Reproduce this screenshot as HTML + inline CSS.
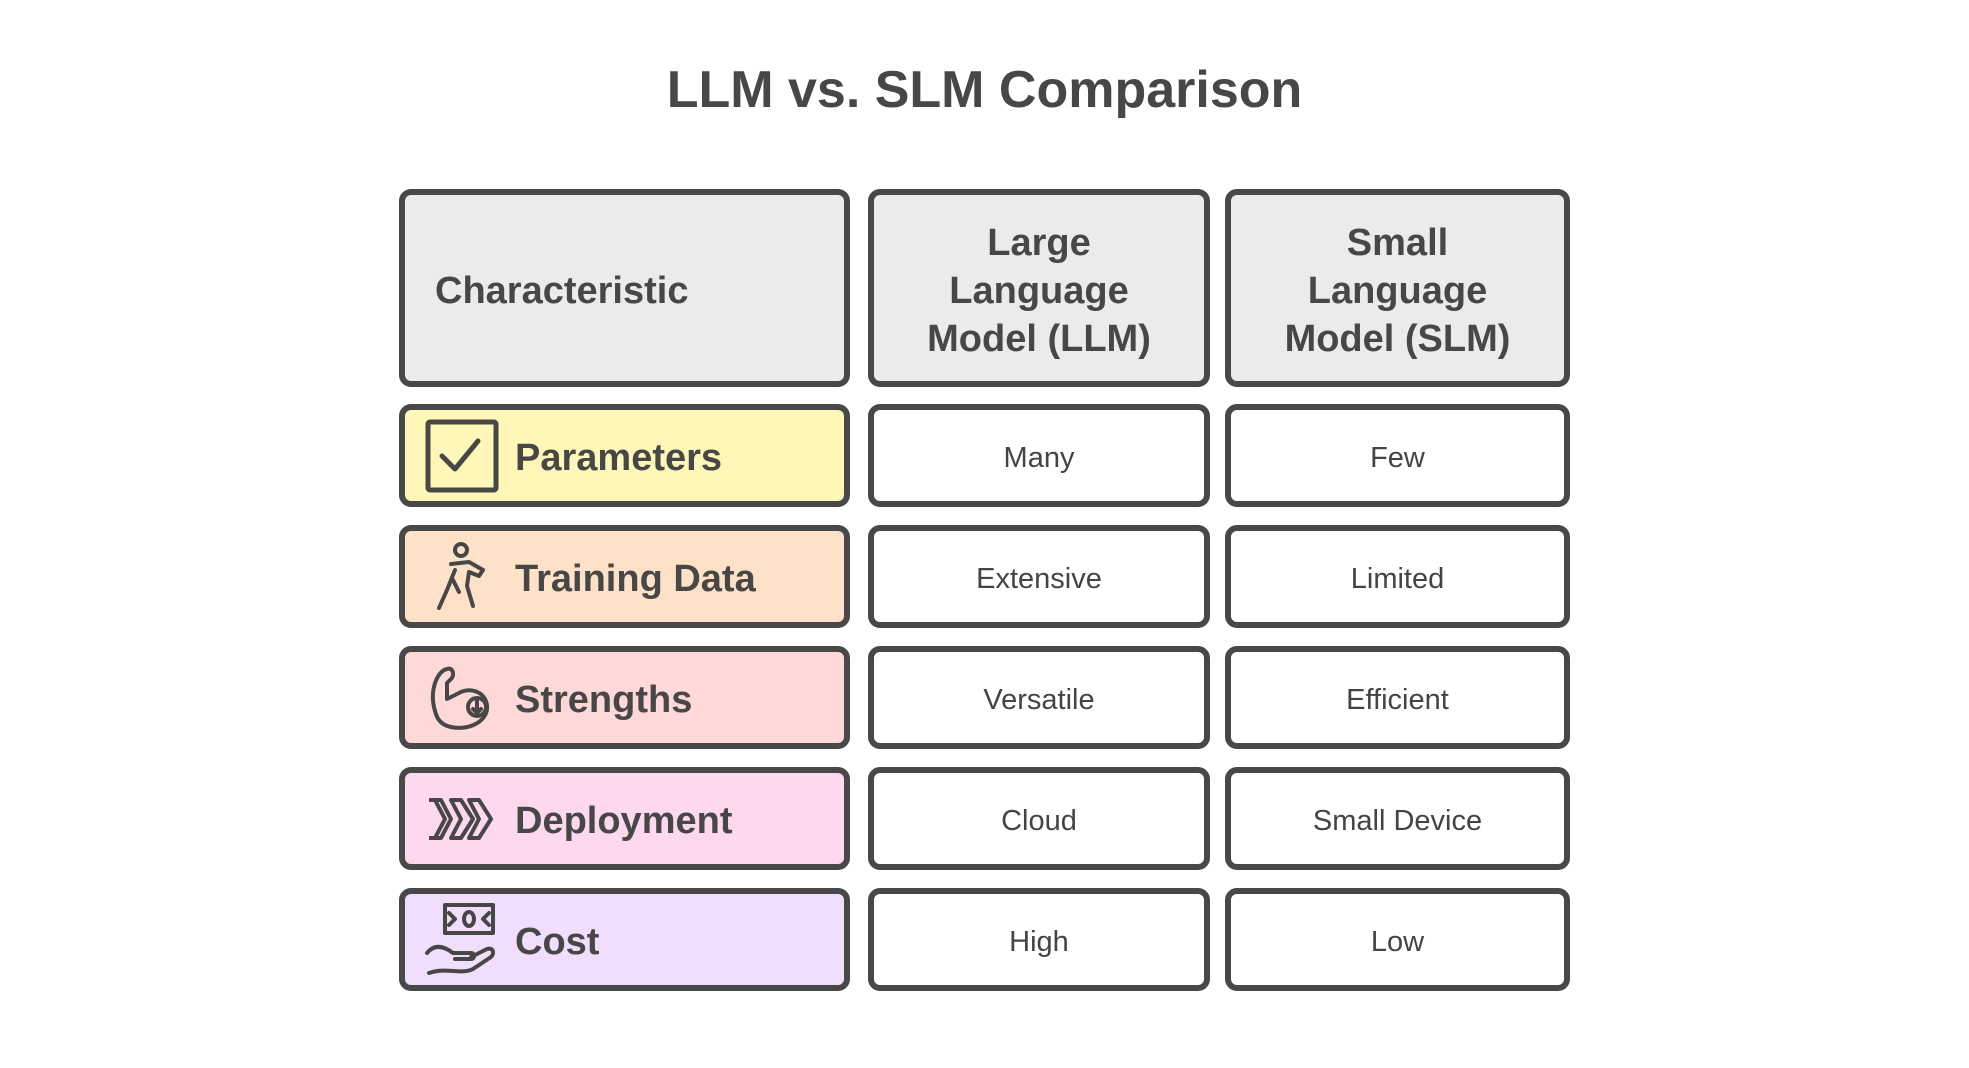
<!DOCTYPE html>
<html><head><meta charset="utf-8"><style>
html,body{margin:0;padding:0;background:#fff;}
body{width:1969px;height:1068px;position:relative;overflow:hidden;font-family:"Liberation Sans",sans-serif;color:#474747;}
.t{position:absolute;left:0;width:1969px;top:60px;text-align:center;font-size:52px;font-weight:bold;}
.b{position:absolute;box-sizing:border-box;border:6px solid #484848;border-radius:12px;display:flex;align-items:center;padding-top:6px;}
.h{background:#ebebeb;font-weight:bold;font-size:38px;line-height:48px;justify-content:center;text-align:center;}
.c{background:#fff;font-size:29px;justify-content:center;color:#444;}
.l{font-weight:bold;font-size:38px;padding-left:20px;}
.l svg{margin-right:16px;flex:none;margin-top:-6px;}
</style></head><body>
<div class="t">LLM vs. SLM Comparison</div>

<div class="b h" style="left:399px;top:189px;width:451px;height:198px;justify-content:flex-start;padding-left:30px;">Characteristic</div>
<div class="b h" style="left:868px;top:189px;width:342px;height:198px;">Large<br>Language<br>Model (LLM)</div>
<div class="b h" style="left:1225px;top:189px;width:345px;height:198px;">Small<br>Language<br>Model (SLM)</div>

<div class="b l" style="left:399px;top:404px;width:451px;height:103px;background:#fff7b8;">
<svg width="74" height="74" viewBox="0 0 74 74" fill="none" stroke="#474747" stroke-width="5" stroke-linecap="round" stroke-linejoin="round"><rect x="3" y="3" width="68" height="68" rx="2"/><path d="M17 37 L30 50 L53 22"/></svg>Parameters</div>
<div class="b c" style="left:868px;top:404px;width:342px;height:103px;">Many</div>
<div class="b c" style="left:1225px;top:404px;width:345px;height:103px;">Few</div>

<div class="b l" style="left:399px;top:525px;width:451px;height:103px;background:#ffe1c8;">
<svg width="74" height="74" viewBox="0 0 74 74" fill="none" stroke="#474747" stroke-width="4" stroke-linecap="round" stroke-linejoin="round"><circle cx="36" cy="10" r="6"/><path d="M26 24 L44 22 L58 30 L54 36 L44 32 L42 46 L48 66 M30 30 L22 50 L14 68 M28 40 L34 52"/></svg>Training Data</div>
<div class="b c" style="left:868px;top:525px;width:342px;height:103px;">Extensive</div>
<div class="b c" style="left:1225px;top:525px;width:345px;height:103px;">Limited</div>

<div class="b l" style="left:399px;top:646px;width:451px;height:103px;background:#ffd8d8;">
<svg width="74" height="74" viewBox="0 0 74 74" fill="none" stroke="#474747" stroke-width="4" stroke-linecap="round" stroke-linejoin="round"><path d="M10 50 C4 30 12 10 22 8 C28 6 30 14 26 18 L22 22 L22 38 L34 32 C44 26 60 30 62 44 C64 60 44 70 26 66 C16 64 12 58 10 50 Z"/><circle cx="52" cy="46" r="9"/><path d="M52 40 V52 M48 48 L52 52 L56 48"/></svg>Strengths</div>
<div class="b c" style="left:868px;top:646px;width:342px;height:103px;">Versatile</div>
<div class="b c" style="left:1225px;top:646px;width:345px;height:103px;">Efficient</div>

<div class="b l" style="left:399px;top:767px;width:451px;height:103px;background:#fdd8ee;">
<svg width="74" height="74" viewBox="0 0 74 74" fill="none" stroke="#474747" stroke-width="4" stroke-linejoin="round"><path d="M4 18 H16 L26 37 L16 56 H4 M10 18 L20 37 L10 56"/><path d="M26 18 H36 L48 37 L36 56 H26 L36 37 Z"/><path d="M44 18 H54 L66 37 L54 56 H44 L54 37 Z"/></svg>Deployment</div>
<div class="b c" style="left:868px;top:767px;width:342px;height:103px;">Cloud</div>
<div class="b c" style="left:1225px;top:767px;width:345px;height:103px;">Small Device</div>

<div class="b l" style="left:399px;top:888px;width:451px;height:103px;background:#f1ddfc;">
<svg width="74" height="74" viewBox="0 0 74 74" fill="none" stroke="#474747" stroke-width="4" stroke-linecap="round" stroke-linejoin="round"><rect x="20" y="2" width="48" height="28"/><ellipse cx="44" cy="16" rx="5" ry="7"/><path d="M24 10 L30 16 L24 22 M64 10 L58 16 L64 22"/><path d="M2 50 C10 40 20 44 28 50 L46 50 C50 50 50 56 46 56 L30 56 M46 54 L62 46 C68 44 70 50 66 54 L48 66 C36 72 22 64 4 70"/></svg>Cost</div>
<div class="b c" style="left:868px;top:888px;width:342px;height:103px;">High</div>
<div class="b c" style="left:1225px;top:888px;width:345px;height:103px;">Low</div>
</body></html>
